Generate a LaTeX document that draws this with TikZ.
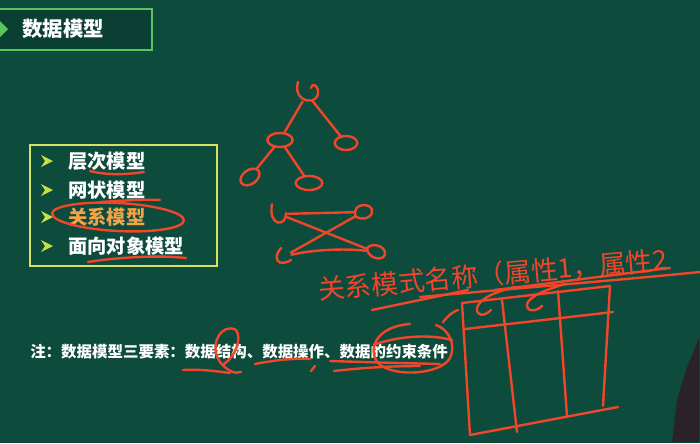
\documentclass[tikz,border=0pt]{standalone}
\usepackage{fontspec}
\setmainfont{Noto Sans CJK SC}
\usetikzlibrary{arrows.meta, shapes.geometric}
\definecolor{board}{HTML}{0D4B3D}
\definecolor{titlebg}{HTML}{0B3F33}
\definecolor{titlegreen}{HTML}{5CC45C}
\definecolor{boxyellow}{HTML}{D8E068}
\definecolor{bulletc}{HTML}{C8E048}
\definecolor{orangetext}{HTML}{F0A446}
\definecolor{penred}{HTML}{F2462A}
\definecolor{jacket}{HTML}{2A2226}

\tikzset{
  chalk/.style={draw=penred, line width=1.7pt, line cap=round, line join=round},
  spot/.style={circle, inner sep=0pt, minimum size=12pt},
  ring/.style={ellipse, draw=penred, line width=1.7pt, inner sep=0pt},
  item/.style={anchor=west, inner sep=0pt, text=white,
               font=\fontsize{13.7}{16}\selectfont\bfseries},
  arrowmark/.pic={\fill[bulletc] (-5,-6) -- (7,0) -- (-5,6) -- (-1,0) -- cycle;}
}

\begin{document}
\begin{tikzpicture}[x=0.025cm, y=-0.025cm]
  \useasboundingbox (0,0) rectangle (700,443);
  \fill[board] (0,0) rectangle (700,443);

  % title bar
  \draw[titlegreen, fill=titlebg, line width=1.2pt] (-3,9) rectangle (152,50);
  \fill[titlegreen] (0,21) -- (8,29) -- (0,37) -- (-2,37) -- (-2,21) -- cycle;
  \node[anchor=west, inner sep=0pt, text=white,
        font=\fontsize{14.5}{17}\selectfont\bfseries] (title) at (22,29) {数据模型};

  % list of models
  \draw[boxyellow, line width=1.2pt] (30,145) rectangle (217,266);
  \foreach \txt/\yy/\col [count=\i] in {层次模型/161/white, 网状模型/190/white,
                                         关系模型/217/orangetext, 面向对象模型/246/white}{
    \pic at (46,\yy) {arrowmark};
    \node[item, text=\col] (m\i) at (68,\yy) {\txt};
  }
  \draw[chalk] (90,171) .. controls (110,176) and (130,174) .. (144,172);
  \draw[chalk] (100,202) .. controls (120,201) and (140,199) .. (160,200);
  \draw[chalk, rotate around={-3:(118,217)}] (118,217) ellipse [x radius=66, y radius=14];
  \draw[chalk] (88,262) .. controls (120,257) and (160,255) .. (186,258);

  % hierarchy: a small tree
  \node[spot] (t0) at (307,94) {};
  \node[ring, minimum width=18pt, minimum height=10pt] (t1) at (280,140) {};
  \node[ring, minimum width=16pt, minimum height=10pt] (t2) at (346,143) {};
  \node[ring, minimum width=15pt, minimum height=10pt, rotate=35] (t3) at (250,177) {};
  \node[ring, minimum width=19pt, minimum height=10pt] (t4) at (309,183) {};
  \draw[chalk] (298,82) .. controls (292,104) and (320,106) .. (318,91)
               .. controls (317,84) and (312,83) .. (311,88);
  \draw[chalk] (t0) -- (t1);
  \draw[chalk] (t0) -- (t2);
  \draw[chalk] (t1) -- (t3);
  \draw[chalk] (t1) -- (t4);

  % network
  \node[spot] (n1) at (279,214) {};
  \node[spot] (n2) at (363,212) {};
  \node[spot] (n3) at (283,257) {};
  \node[spot] (n4) at (375,252) {};
  \draw[chalk] (272,204) .. controls (268,226) and (286,228) .. (286,213);
  \draw[chalk] (356,217) .. controls (350,202) and (374,202) .. (372,212)
               .. controls (371,219) and (362,220) .. (356,217);
  \draw[chalk] (281,248) .. controls (272,258) and (278,268) .. (291,260);
  \draw[chalk] (367,249) .. controls (369,242) and (386,245) .. (385,254)
               .. controls (384,261) and (369,260) .. (367,249);
  \draw[chalk] (n1) -- (n2);
  \draw[chalk] (n1) -- (n4);
  \draw[chalk] (n2) -- (n3);
  \draw[chalk] (n3) .. controls (310,250) and (345,248) .. (n4);

  % handwritten relation schema
  \node[anchor=west, inner sep=0pt, text=penred, rotate=5,
        font=\fontsize{19}{22}\selectfont] (schema) at (318,290) {关系模式名称（属性1，属性2};
  \draw[chalk] (372,310) -- (468,290);
  \draw[chalk] (420,297) .. controls (520,288) and (620,280) .. (700,272);
  \draw[chalk] (495,290) .. controls (560,282) and (620,274) .. (670,268);

  % table
  \coordinate (tl) at (462,303);
  \coordinate (tr) at (610,286);
  \coordinate (bl) at (470,435);
  \coordinate (br) at (603,406);
  \draw[chalk] (tl) -- (tr) -- (br);
  \draw[chalk] (tl) -- (bl);
  \draw[chalk] (bl) -- (618,407);
  \draw[chalk] (502,300) -- (517,432);
  \draw[chalk] (558,291) -- (567,416);
  \draw[chalk] (465,329) -- (613,312);
  \draw[chalk] (515,287) .. controls (495,292) and (480,298) .. (477,308)
               .. controls (476,316) and (484,317) .. (491,310);
  \draw[chalk] (565,284) .. controls (545,290) and (530,296) .. (527,304)
               .. controls (526,312) and (536,312) .. (542,306);

  % note line
  \node[anchor=west, inner sep=0pt, text=white,
        font=\fontsize{11}{13}\selectfont\bfseries] (note) at (30,352)
        {注：数据模型三要素：数据结构、数据操作、数据的约束条件};
  \draw[chalk] (236,330) .. controls (222,322) and (208,345) .. (220,362)
               .. controls (228,372) and (236,374) .. (241,372);
  \draw[chalk] (236,330) .. controls (242,338) and (236,356) .. (224,364);
  \draw[chalk] (183,370) .. controls (200,369) and (215,371) .. (230,373);
  \draw[chalk] (255,364) .. controls (275,360) and (295,358) .. (310,359);
  \draw[chalk] (311,371) -- (315,366);
  \draw[chalk] (330,361) .. controls (360,362) and (400,363) .. (440,364);
  \draw[chalk] (334,371) .. controls (360,368) and (390,366) .. (420,366);
  \draw[chalk] (410,324) .. controls (380,326) and (368,345) .. (376,360)
               .. controls (386,378) and (440,376) .. (450,358)
               .. controls (456,346) and (450,330) .. (436,325);
  \draw[chalk] (376,344) .. controls (400,336) and (430,334) .. (452,340);
  \draw[chalk] (443,322) .. controls (448,316) and (452,312) .. (458,310);

  % presenter at the right edge
  \fill[jacket] (699,338) -- (686,370) -- (677,400) -- (672,442) -- (699,442) -- cycle;
\end{tikzpicture}
\end{document}
